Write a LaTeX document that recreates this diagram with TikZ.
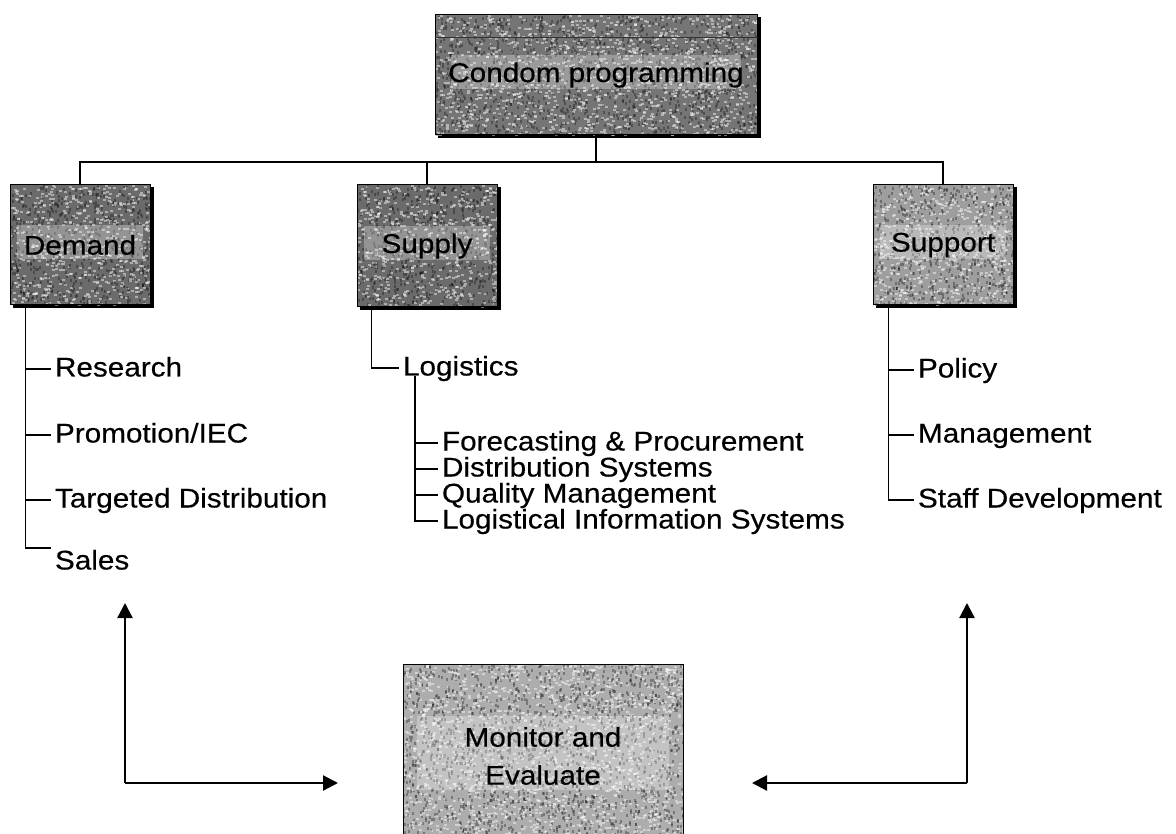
\documentclass[tikz,border=0pt]{standalone}
\usepackage{fontspec}
\setmainfont{Liberation Sans}[FakeStretch=1.1,FakeBold=0.4]
\usetikzlibrary{arrows.meta,calc,backgrounds}
\definecolor{gdark}{gray}{0.42}
\definecolor{gmid}{gray}{0.46}
\definecolor{glight}{gray}{0.62}
\definecolor{glighter}{gray}{0.68}
\tikzset{
  conn/.style={line width=1.8pt, line cap=rect},
  arr/.style={line width=2.2pt, -{Triangle[length=15pt,width=15pt]}},
  item/.style={anchor=west, inner sep=0pt, outer sep=5pt, text height=20pt,
    text depth=5pt, font=\fontsize{27}{33}\selectfont},
  gbox/.style 2 args={draw=black, line width=1pt,
    minimum width=#1pt, minimum height=#2pt, inner sep=0pt,
    font=\fontsize{27}{38}\selectfont, align=center},
  shadowbox/.style={fill=black},
  speckw/.style={fill=white, opacity=0.45},
  speckb/.style={fill=black, opacity=0.3},
  halo/.style={fill=white, opacity=0.28}
}
% texture of a box: node name, base colour, width, height, seed, halo top, halo bottom
\newcommand{\boxtexture}[7]{%
  \fill[#2] (#1.south west) rectangle (#1.north east);
  \begin{scope}
    \clip (#1.south west) rectangle (#1.north east);
    \pgfmathsetseed{#5}
    \pgfmathtruncatemacro\nsp{(#3/6)*(#4/5)}
    \begin{scope}[shift={(#1.north west)}]
      \foreach \i in {1,...,\nsp}{
        \path[speckw] ({rnd*#3},{rnd*#4}) rectangle ++(3,2);
        \path[speckb] ({rnd*#3},{rnd*#4}) rectangle ++(2,3);
      }
    \end{scope}
    \path[halo] ($(#1.center)+({-0.45*#3},#6)$) rectangle ($(#1.center)+({0.45*#3},#7)$);
  \end{scope}}
\begin{document}
\begin{tikzpicture}[x=1pt,y=-1pt]
\useasboundingbox (0,0) rectangle (1176,834);
\clip (0,0) rectangle (1176,834);

% boxes
\node[gbox={322}{120}] (cp) at (596,75) {Condom programming};
\node[gbox={140}{120}] (dem) at (80,245) {Demand};
\node[gbox={140}{122}] (sply) at (427,246) {Supply};
\node[gbox={140}{120}] (spt) at (943,245) {Support};
\node[gbox={280}{184}] (mon) at (543,756) {Monitor and\\Evaluate};

\begin{scope}[on background layer]
  \foreach \n in {cp,dem,sply,spt}
    \fill[shadowbox] ([shift={(3pt,-3pt)}]\n.south west) rectangle ([shift={(3pt,-3pt)}]\n.north east);
  \boxtexture{cp}{gmid}{322}{120}{11}{-20}{14}
  \boxtexture{dem}{gdark}{140}{120}{23}{-20}{14}
  \boxtexture{sply}{gdark}{140}{122}{37}{-20}{14}
  \boxtexture{spt}{glight}{140}{120}{41}{-20}{14}
  \boxtexture{mon}{glighter}{280}{184}{53}{-40}{34}
\end{scope}

\draw[black!80, line width=1pt] ([yshift=-23pt]cp.north west) -- ([yshift=-23pt]cp.north east);

% tree connectors
\coordinate (bus) at (596,162);
\draw[conn] (cp.south) -- (bus);
\draw[conn] (dem.north) |- (bus);
\draw[conn] (spt.north) |- (bus);
\draw[conn] (sply.north) -- (sply.north |- bus);

% Demand list
\node[item] (res) at (50,369) {Research};
\node[item] (pro) at (50,435) {Promotion/IEC};
\node[item] (tgt) at (50,500) {Targeted Distribution};
\node[item] (sal) at (50,562) {Sales};
\coordinate (dtop) at ($(dem.south west)+(16,0)$);
\draw[conn] (dtop) |- ([yshift=14pt]sal.west);
\foreach \n in {res,pro,tgt} \draw[conn] (\n.west) -- (\n.west -| dtop);

% Supply list
\node[item] (log) at (398,368) {Logistics};
\coordinate (stop) at ($(sply.south west)+(15,0)$);
\draw[conn] (stop) |- (log.west);
\node[item] (fc) at (437,443) {Forecasting \& Procurement};
\node[item] (ds) at (437,469) {Distribution Systems};
\node[item] (qm) at (437,495) {Quality Management};
\node[item] (lis) at (437,521) {Logistical Information Systems};
\coordinate (ltop) at (415,377);
\draw[conn] (ltop) |- (lis.west);
\foreach \n in {fc,ds,qm} \draw[conn] (\n.west) -- (\n.west -| ltop);

% Support list
\node[item] (pol) at (913,370) {Policy};
\node[item] (mgt) at (913,435) {Management};
\node[item] (stf) at (913,500) {Staff Development};
\coordinate (ptop) at ($(spt.south west)+(16,0)$);
\draw[conn] (ptop) |- (stf.west);
\foreach \n in {pol,mgt} \draw[conn] (\n.west) -- (\n.west -| ptop);

% feedback arrows
\coordinate (lc) at (125,783);
\coordinate (lt) at (125,603);
\coordinate (lh) at (338,783);
\draw[arr] (lc) -- (lt);
\draw[arr] (lc) -- (lh);
\coordinate (rc) at (967,783);
\coordinate (rt) at (967,603);
\coordinate (rh) at (752,783);
\draw[arr] (rc) -- (rt);
\draw[arr] (rc) -- (rh);
\end{tikzpicture}
\end{document}
